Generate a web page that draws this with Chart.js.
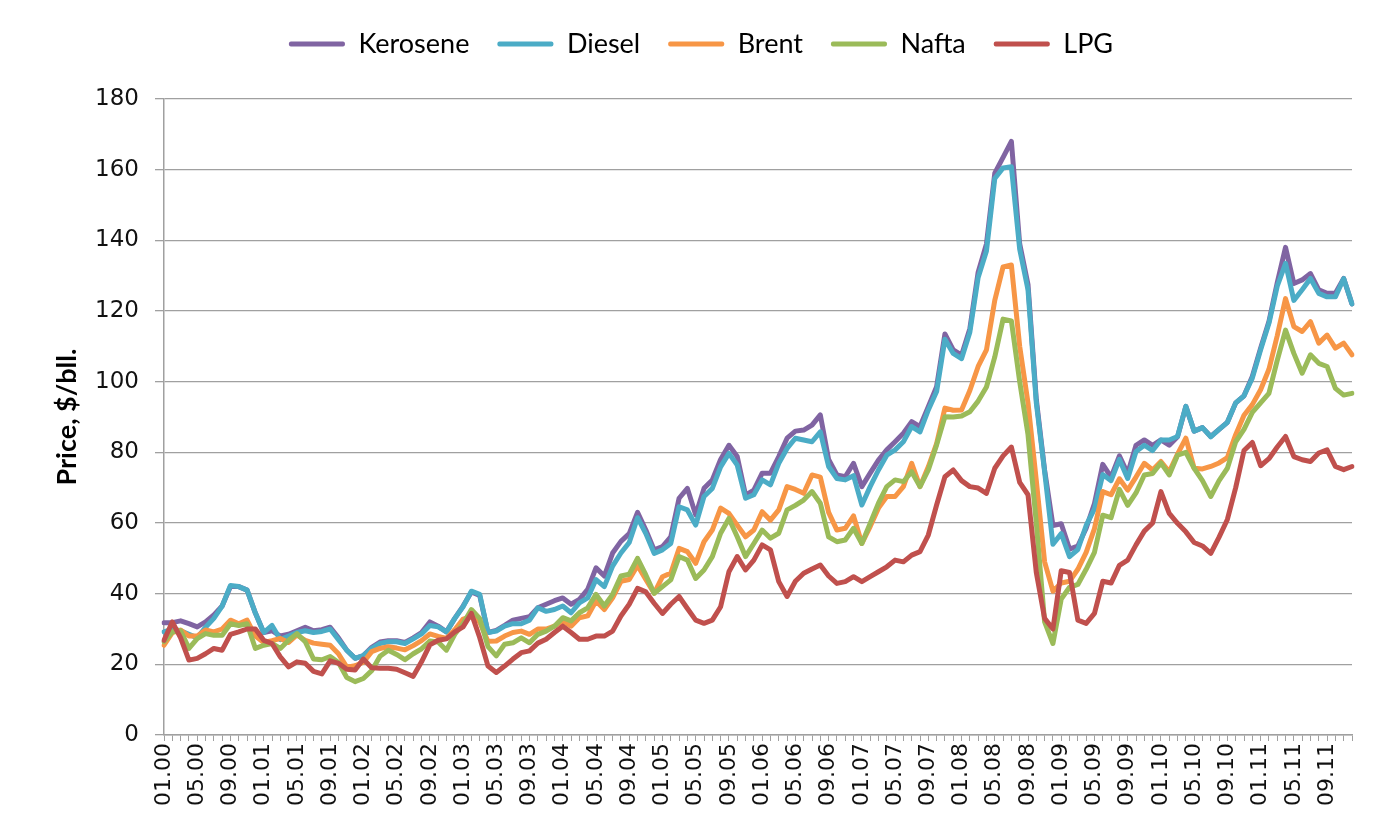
<!DOCTYPE html>
<html lang="en">
<head>
<meta charset="UTF-8">
<title>Kerosene, Diesel, Brent, Nafta, LPG prices</title>
<script src="https://cdn.jsdelivr.net/npm/chart.js@4"></script>
<style>
    body { margin: 0; background: #fff; }
    #wrap { width: 1375px; height: 828px; }
</style>
</head>
<body>
<div id="wrap"><canvas id="priceChart" width="1375" height="828"></canvas></div>
<script>
// months 01.00 .. 12.11
var years = ['00', '01', '02', '03', '04', '05', '06', '07', '08', '09', '10', '11'];
var months = ['01', '02', '03', '04', '05', '06', '07', '08', '09', '10', '11', '12'];
var categories = [];
years.forEach(function (y) {
    months.forEach(function (m) { categories.push(m + '.' + y); });
});
var labelEvery = 4;

// $/bbl, one row per year
var kerosene = [
    31.8, 31.8, 32.3, 31.5, 30.6, 32, 34, 36.5, 42, 42, 41, 34.5,
    29, 29.5, 28, 28.5, 29.5, 30.5, 29.5, 29.8, 30.5, 27.5, 24, 21.7,
    22.5, 24.8, 26.3, 26.7, 26.7, 26.2, 27.5, 29, 32, 30.8, 29.2, 33,
    36.5, 40.5, 39.5, 29, 29.6, 31, 32.5, 33, 33.5, 36, 37, 38,
    38.8, 37, 38.4, 41.2, 47.3, 45, 51.5, 54.8, 57, 63, 58, 52.4,
    53.3, 56.1, 67, 69.8, 62.3, 69.8, 72.2, 78, 82, 78.8, 67.9, 69.3,
    74.1, 74.1, 78.8, 84, 86, 86.3, 87.7, 90.6, 78, 73.6, 73.1, 76.9,
    70.3, 74.1, 77.8, 80.7, 83, 85.4, 88.7, 87.3, 92.9, 98.6, 113.5, 109,
    107.5, 115, 131, 139, 159, 163.5, 168, 139, 127.5, 95, 75, 59.3,
    59.8, 52.6, 53.5, 58.5, 65.5, 76.6, 73, 79, 74, 82, 83.5, 82,
    83.5, 82, 84.4, 93, 86, 87, 84.5, 86.5, 88.5, 94, 96, 101.5,
    109.5, 117, 128, 138, 127.8, 128.8, 130.6, 126, 125, 125, 129.2, 122
];
var diesel = [
    29.2, 30, 29.5, 28.5, 27.5, 30.5, 33, 36.5, 42.3, 42, 41, 34.5,
    29, 31, 27, 28, 29, 29.5, 29, 29.3, 30, 27, 24, 21.7,
    22.5, 24.5, 25.9, 26.4, 26.4, 25.9, 27.2, 28.6, 31, 30.6, 29.2, 33,
    36.3, 40.7, 39.8, 29, 29.4, 30.8, 31.5, 31.5, 32.5, 36, 35, 35.5,
    36.5, 34.6, 37.4, 38.8, 44, 42, 47.8, 51.5, 54.5, 61.5, 57, 51.4,
    52.4, 54.2, 64.6, 63.7, 59.4, 67.5, 69.8, 75.9, 79.7, 76.4, 67, 68,
    72.2, 70.8, 76.9, 81.1, 84, 83.5, 83, 85.8, 76, 72.6, 72.2, 73.4,
    65.1, 70.3, 75, 79.2, 80.7, 83, 87.3, 85.8, 92, 97.2, 112, 108,
    106.5, 114, 129.5, 137, 157.5, 160.5, 160.8, 137.5, 126, 94, 74.5, 54,
    57, 50.5, 52.5, 59.3, 64, 73.7, 72, 78, 72.6, 80.2, 82, 80.5,
    83.5, 83.5, 84.5, 93, 86, 87, 84.4, 86.5, 88.5, 94, 96, 101,
    109, 116.5, 127, 133.5, 123, 126, 129.2, 125, 124, 124, 129.2, 122
];
var brent = [
    25.4, 29, 29.7, 28, 28, 29.7, 29.2, 30, 32.5, 31.5, 32.5, 28,
    26.2, 26.7, 27.3, 26.2, 28.3, 26.8, 26, 25.7, 25.4, 23, 19.2, 19.6,
    20.6, 23.6, 24.5, 25, 24.6, 24.1, 25.3, 26.7, 28.6, 27.9, 27.3, 29.8,
    32.8, 33.5, 32, 26.5, 26.6, 28, 29, 29.4, 28.5, 30, 30, 30.8,
    32.3, 30.8, 33.2, 33.7, 37.9, 35.5, 38.8, 43.5, 44, 48, 44, 40.1,
    44.8, 45.8, 52.8, 51.9, 48.6, 54.7, 58, 64.2, 62.7, 59.4, 56.1, 58,
    63.2, 60.8, 63.7, 70.3, 69.5, 68.4, 73.6, 73, 63, 58, 58.5, 62,
    54.2, 59, 64.2, 67.5, 67.5, 70.3, 76.9, 70.3, 75.9, 82.5, 92.5, 91.9,
    92, 97.5, 104.3, 109, 123, 132.5, 133, 110, 94, 72, 49, 40.7,
    43, 43.5, 46.9, 51.7, 58.4, 68.9, 68, 72.5, 69.3, 73, 76.9, 75,
    77.4, 74.5, 79.5, 84, 75.5, 75.3, 76, 77, 78.5, 85, 90.5, 93.5,
    97.7, 103.5, 113, 123.5, 115.6, 114.2, 117, 110.9, 113.2, 109.5, 110.9, 107.6
];
var nafta = [
    26.4, 29.2, 29.5, 24.5, 27.3, 28.7, 28.2, 28.2, 31.5, 31, 31.5, 24.5,
    25.4, 25.9, 24.5, 26.8, 28.7, 26.4, 21.5, 21.3, 22.2, 20.5, 16.3, 15.1,
    16, 18.2, 22.3, 24, 22.8, 21.3, 23, 24.4, 26.6, 26.3, 24, 28.5,
    31.5, 35.5, 33, 25, 22.4, 25.7, 26.1, 27.5, 26.1, 28.5, 29.4, 30.8,
    33.2, 32.3, 34.6, 36, 39.8, 36.5, 39.8, 45, 45.5, 50, 45.3, 40.1,
    42, 43.9, 50.5, 49.5, 44.3, 46.7, 50.5, 57.1, 61.3, 56.1, 50.5, 54.2,
    58, 55.7, 57.1, 63.7, 65, 66.5, 68.9, 65.6, 56.1, 54.7, 55.2, 58.5,
    54.2, 59.9, 65.6, 70.3, 72.2, 71.7, 74.5, 70.3, 75, 82.1, 90.1, 90,
    90.3, 91.5, 94.5, 98.5, 107, 117.7, 117.2, 100, 85, 60, 32, 25.9,
    38.5, 41.8, 42.6, 46.9, 51.7, 62.2, 61.5, 69.5, 65, 68.5, 73.6, 74,
    77, 73.6, 79.2, 80, 75.5, 72, 67.5, 72, 75.5, 83, 86.5, 91.3,
    94, 96.7, 106, 114.6, 108, 102.4, 107.6, 105.2, 104.3, 98.1, 96.2, 96.7
];
var lpg = [
    26.8, 32, 27.5, 21.2, 21.7, 23, 24.5, 24, 28.5, 29.2, 30, 30,
    26.8, 25.9, 22.1, 19.3, 20.7, 20.3, 18, 17.3, 21, 20.3, 18.6, 18.4,
    21.5, 19, 18.9, 18.9, 18.6, 17.6, 16.6, 20.7, 25.5, 26.8, 27.2, 29.2,
    30.6, 34.4, 27.6, 19.5, 17.7, 19.5, 21.5, 23.3, 23.8, 26, 27.1, 29,
    30.8, 29, 27.1, 27.1, 28, 28, 29.4, 33.7, 37, 41.5, 40.5, 37.3,
    34.4, 37, 39.2, 35.8, 32.5, 31.6, 32.5, 36.3, 46.2, 50.5, 46.7, 49.5,
    53.8, 52.4, 43.4, 39.2, 43.5, 45.8, 47, 48.1, 45, 42.9, 43.4, 44.8,
    43.4, 44.8, 46.2, 47.6, 49.5, 49, 50.9, 51.9, 56.6, 65.1, 73.1, 75,
    72, 70.3, 69.9, 68.4, 75.5, 79, 81.5, 71.5, 68, 46, 33, 30,
    46.5, 46, 32.5, 31.6, 34.4, 43.5, 43, 48, 49.5, 53.8, 57.7, 60,
    68.9, 62.7, 59.9, 57.5, 54.5, 53.5, 51.4, 56, 61, 70, 80.5, 82.8,
    76.2, 78.2, 81.5, 84.5, 78.8, 77.9, 77.4, 79.8, 80.7, 76, 75.1, 76
];

var seriesNames = ['Kerosene', 'Diesel', 'Brent', 'Nafta', 'LPG'];
var seriesColors = ['#8064A2', '#4BACC6', '#F79646', '#9BBB59', '#C0504D'];
var seriesData = [kerosene, diesel, brent, nafta, lpg];

var yMin = 0, yMax = 180, yStep = 20;
var yTitle = 'Price, $/bll.';

var gridColor = '#a0a0a0';

function draw() {
    var datasets = seriesNames.map(function (name, i) {
        return {
            label: name,
            data: seriesData[i],
            borderColor: seriesColors[i],
            backgroundColor: seriesColors[i],
            borderWidth: 5,
            pointRadius: 0,
            tension: 0,
            borderJoinStyle: 'round',
            borderCapStyle: 'round',
            // later series on top, like excel
            order: seriesNames.length - i
        };
    });

    var ctx = document.getElementById('priceChart').getContext('2d');
    new Chart(ctx, {
        type: 'line',
        data: { labels: categories, datasets: datasets },
        options: {
            responsive: false,
            animation: false,
            devicePixelRatio: 1,
            layout: { padding: { left: 50, right: 23, top: 2.5, bottom: 0 } },
            plugins: {
                tooltip: { enabled: false },
                legend: {
                    position: 'top',
                    weight: 3000,
                    labels: {
                        boxWidth: 56,
                        boxHeight: 5,
                        padding: 28,
                        color: '#000',
                        useBorderRadius: true,
                        borderRadius: 2,
                        font: { family: 'Lato', size: 27 },
                        sort: function (a, b) { return a.datasetIndex - b.datasetIndex; },
                        generateLabels: function (chart) {
                            var items = Chart.defaults.plugins.legend.labels.generateLabels(chart);
                            items.forEach(function (it) { it.lineWidth = 0; });
                            return items;
                        }
                    }
                },
                // empty title only used as a gap under the legend
                title: {
                    display: true,
                    text: ' ',
                    weight: 500,
                    font: { size: 10 },
                    padding: { top: 19.5, bottom: 0 }
                }
            },
            scales: {
                x: {
                    type: 'category',
                    offset: false,
                    grid: { display: true, drawOnChartArea: false, tickLength: 6, color: gridColor },
                    border: { color: gridColor, width: 1.5 },
                    ticks: {
                        autoSkip: false,
                        minRotation: 90,
                        maxRotation: 90,
                        padding: 2,
                        color: '#111',
                        font: { family: 'DejaVu Sans', size: 22 },
                        callback: function (val, idx) {
                            return idx % labelEvery === 0 ? categories[idx] : '';
                        }
                    },
                    afterFit: function (scale) {
                        scale.height = 93;
                        scale.paddingLeft = 0;
                        scale.paddingRight = 0;
                    }
                },
                y: {
                    min: yMin,
                    max: yMax,
                    grid: { color: gridColor, lineWidth: 1.3, tickLength: 9 },
                    border: { color: gridColor, width: 1.5 },
                    ticks: { stepSize: yStep, padding: 16, color: '#111', font: { family: 'DejaVu Sans', size: 23 } },
                    title: {
                        display: true,
                        text: yTitle,
                        color: '#000',
                        font: { family: 'Lato', size: 27, weight: 'bold' },
                        padding: { top: 1, bottom: 0 }
                    },
                    afterFit: function (scale) { scale.width = 114; }
                }
            }
        }
    });
}

if (document.fonts && document.fonts.load) {
    Promise.all([
        document.fonts.load('27px Lato'),
        document.fonts.load('bold 27px Lato'),
        document.fonts.load('22px "DejaVu Sans"')
    ]).then(draw, draw);
} else {
    draw();
}
</script>
</body>
</html>
